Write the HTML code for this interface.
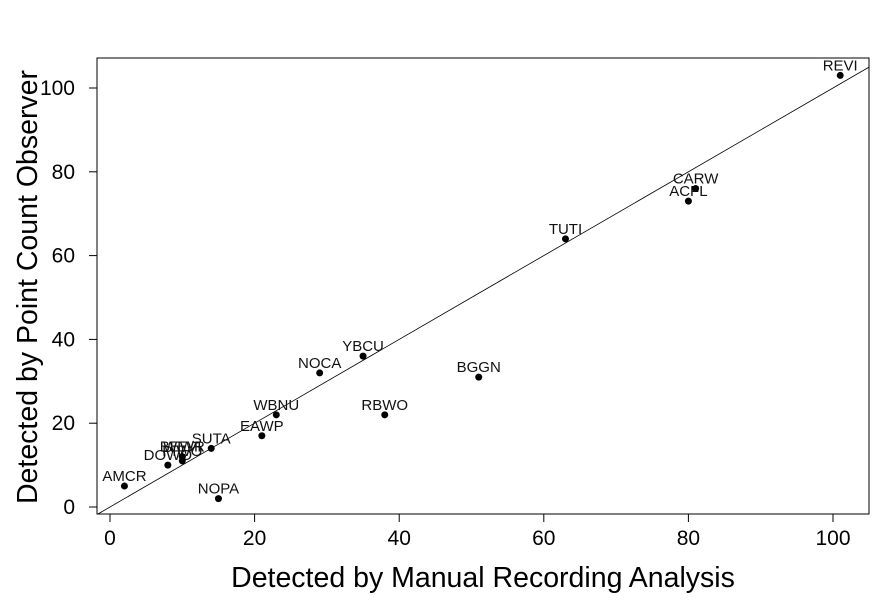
<!DOCTYPE html>
<html><head><meta charset="utf-8"><style>
body{margin:0;background:#fff;}
text{font-family:"Liberation Sans",Arial,sans-serif;}
</style></head><body>
<svg id="chart" width="890" height="611"></svg>
<script>
const labels=["AMCR","NOPA","DOWO","PIWO","BEWR","WEVI","SUTA","EAWP","WBNU","NOCA","YBCU","RBWO","BGGN","TUTI","ACFL","CARW","REVI"];
const xVals=[2,15,8,10,10,10,14,21,23,29,35,38,51,63,80,81,101];
const yVals=[5,2,10,11,12,12,14,17,22,32,36,22,31,64,73,76,103];
const xTicks=[0,20,40,60,80,100];
const yTicks=[0,20,40,60,80,100];
const NS="http://www.w3.org/2000/svg";
const svg=document.getElementById('chart');
const L=97,R=869,T=58,B=514;
const sx=v=>110+v*7.23;
const sy=v=>507-v*4.19;
function mk(tag,attrs,parent){const e=document.createElementNS(NS,tag);for(const k in attrs)e.setAttribute(k,attrs[k]);(parent||svg).appendChild(e);return e;}
const box=mk('rect',{x:L,y:T,width:R-L,height:B-T,fill:'none',stroke:'#000','stroke-width':1});


const lo=(507-B)/4.19, hi=Math.min((R-110)/7.23,(507-T)/4.19);
const ln=mk('line',{x1:sx(lo),y1:sy(lo),x2:sx(hi),y2:sy(hi),stroke:'#000','stroke-width':0.8});


xTicks.forEach(t=>{
  const g=mk('g',{});
  
  
  mk('line',{x1:sx(t),x2:sx(t),y1:B,y2:B+8,stroke:'#000'},g);
  const tx=mk('text',{x:sx(t),y:B+31,'text-anchor':'middle','font-size':21},g);tx.textContent=t;
});
yTicks.forEach(t=>{
  const g=mk('g',{});
  
  
  mk('line',{x1:L-8,x2:L,y1:sy(t),y2:sy(t),stroke:'#000'},g);
  const tx=mk('text',{x:75,y:sy(t)+7,'text-anchor':'end','font-size':21},g);tx.textContent=t;
});
labels.forEach((lab,i)=>{
  const g=mk('g',{});
  
  
  mk('circle',{cx:sx(xVals[i]),cy:sy(yVals[i]),r:3.5,fill:'#000'},g);
  const t=mk('text',{x:sx(xVals[i]),y:sy(yVals[i])-5,'text-anchor':'middle','font-size':15,fill:'#111'},g);t.textContent=lab;
});
const xt=mk('text',{x:483,y:587,'text-anchor':'middle','font-size':28.5});xt.textContent='Detected by Manual Recording Analysis';


const yt=mk('text',{x:37,y:287,'text-anchor':'middle','font-size':28.5,transform:'rotate(-90 37 287)'});yt.textContent='Detected by Point Count Observer';


</script>
</body></html>
